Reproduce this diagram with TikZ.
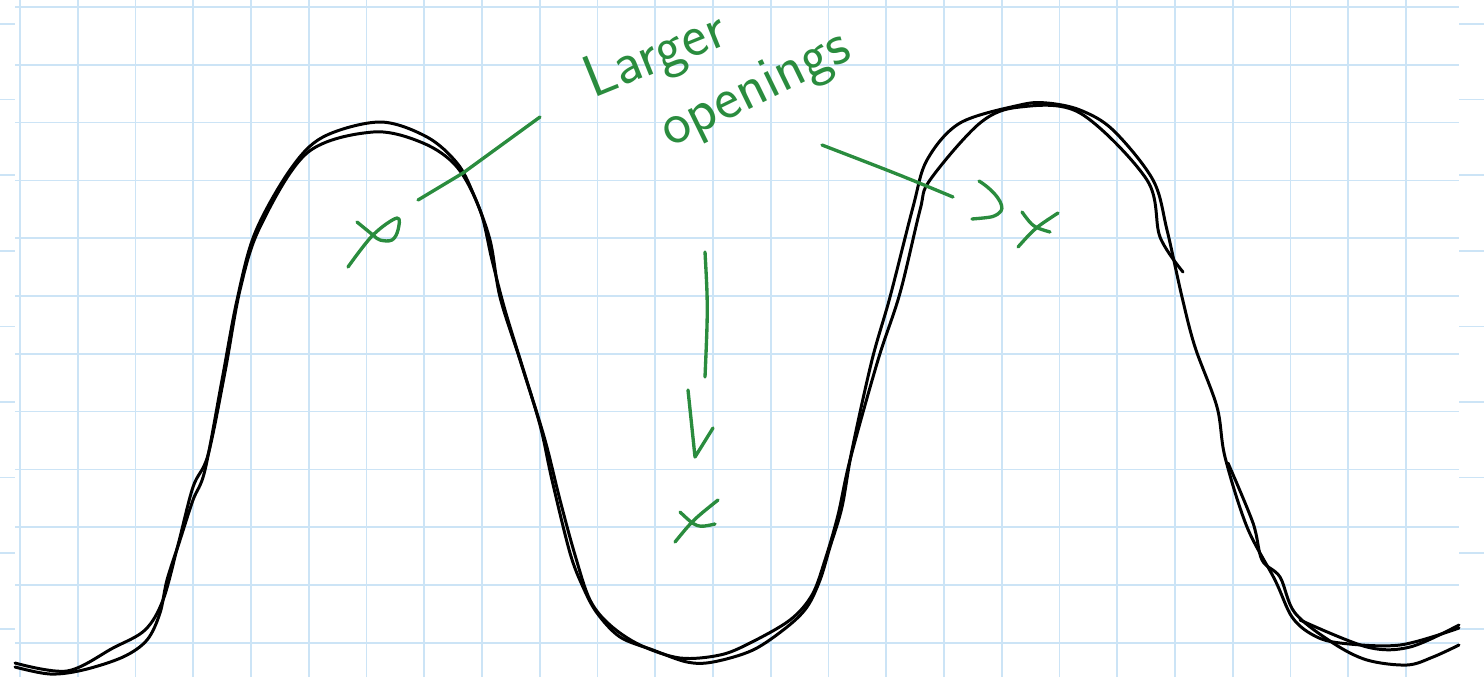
\documentclass[tikz,border=0pt]{standalone}
\definecolor{gridblue}{RGB}{204,228,246}
\definecolor{inkgreen}{RGB}{42,140,62}
\begin{document}
\begin{tikzpicture}[
	gridline/.style={gridblue, line width=0.5pt},
	blackpen/.style={black, line width=0.85pt, line cap=round, line join=round},
	greenpen/.style={inkgreen, line width=0.95pt, line cap=round, line join=round},
	note/.style={inkgreen, font=\sffamily\fontsize{17}{19}\selectfont, inner sep=0pt}]
		\useasboundingbox (0, 0) rectangle (14.84, 6.77);
		
		% squared paper
		\foreach \k in {0,...,24}
			\draw[gridline] ({0.20+0.5775*\k}, 0) -- ({0.20+0.5775*\k}, 6.77);
		\foreach \k in {0,...,11}
			\draw[gridline] (0.15, {6.70-0.578*\k}) -- (14.59, {6.70-0.578*\k});
		\foreach \k in {0,...,8} {
			\draw[gridline] (0, {6.53-0.756*\k}) -- (0.15, {6.53-0.756*\k});
			\draw[gridline] (14.59, {6.53-0.756*\k}) -- (14.84, {6.53-0.756*\k});
		}
		
		% the wave, drawn twice over
		\draw[blackpen] plot[smooth, tension=0.55] coordinates {
			(0.15,0.10) (0.50,0.03) (0.83,0.07) (1.23,0.20) (1.47,0.37) (1.60,0.64)
			(1.67,0.97) (1.80,1.37) (1.93,1.77) (2.05,2.07) (2.22,2.97) (2.37,3.77)
			(2.55,4.44) (2.90,5.07) (3.23,5.40) (3.80,5.55) (4.27,5.40) (4.57,5.14)
			(4.73,4.84) (4.90,4.37) (5.00,3.80) (5.20,3.17) (5.40,2.52) (5.52,1.97)
			(5.70,1.24) (5.83,0.90) (5.97,0.64) (6.20,0.40) (6.53,0.27) (6.87,0.15)
			(7.13,0.15) (7.53,0.27) (7.87,0.50) (8.07,0.70) (8.20,0.97) (8.30,1.30)
			(8.42,1.70) (8.52,2.27) (8.72,3.17) (8.90,3.80) (9.13,4.70) (9.27,5.17)
			(9.60,5.54) (10.20,5.72) (10.47,5.74) (10.80,5.67) (11.13,5.47) (11.53,4.97)
			(11.67,4.47) (11.82,3.80) (11.95,3.30) (12.17,2.70) (12.25,2.20) (12.47,1.50)
			(12.75,0.97) (12.92,0.60) (13.13,0.42) (13.40,0.34) (14.00,0.32) (14.59,0.49)};
		\draw[blackpen] plot[smooth, tension=0.55] coordinates {
			(0.15,0.14) (0.67,0.06) (1.13,0.29) (1.45,0.47) (1.63,0.77) (1.78,1.32)
			(1.93,1.90) (2.08,2.22) (2.25,3.05) (2.40,3.87) (2.60,4.50) (3.07,5.24)
			(3.73,5.45) (4.23,5.34) (4.57,5.10) (4.80,4.67) (4.92,4.17) (5.05,3.67)
			(5.25,3.02) (5.45,2.37) (5.60,1.77) (5.75,1.22) (5.90,0.77) (6.10,0.52)
			(6.40,0.32) (6.80,0.19) (7.20,0.22) (7.50,0.34) (7.90,0.57) (8.12,0.82)
			(8.25,1.17) (8.38,1.62) (8.50,2.17) (8.78,3.17) (9.00,3.84) (9.20,4.67)
			(9.30,4.97) (9.80,5.54) (10.20,5.70) (10.80,5.64) (11.47,4.97) (11.60,4.40)
			(11.83,4.05)};
		\draw[blackpen] plot[smooth, tension=0.55] coordinates {
			(12.28,2.14) (12.53,1.54) (12.62,1.17) (12.80,1.00) (12.95,0.64)
			(13.33,0.34) (13.67,0.17) (14.07,0.12) (14.33,0.20) (14.59,0.32)};
		\draw[blackpen] plot[smooth, tension=0.55] coordinates {
			(13.00,0.57) (13.67,0.30) (14.10,0.30) (14.59,0.52)};
		
		% green notes
		\node[note, rotate=22] (larger) at (6.56, 6.20) {Larger};
		\node[note, rotate=26] (openings) at (7.56, 5.86) {openings};
		
		\draw[greenpen] (4.18,4.77) .. controls (4.40,4.90) .. (4.63,5.04) -- (5.40,5.60);
		\draw[greenpen] plot[smooth, tension=0.6] coordinates {
			(3.48,4.10) (3.73,4.42) (3.97,4.59) (3.98,4.47) (3.92,4.37) (3.80,4.37)
			(3.73,4.42) (3.57,4.55)};
		
		\draw[greenpen] (7.05,4.25) .. controls (7.08,3.70) .. (7.05,3.00);
		\draw[greenpen] (6.88,2.87) -- (6.95,2.20) -- (7.13,2.49);
		\draw[greenpen] (6.75,1.35) .. controls (6.93,1.57) .. (7.18,1.77);
		\draw[greenpen] (6.80,1.65) .. controls (6.97,1.49) .. (7.15,1.53);
		
		\draw[greenpen] (8.22,5.32) .. controls (9.00,5.02) .. (9.53,4.80);
		\draw[greenpen] (9.79,4.96) .. controls (9.95,4.86) and (10.05,4.72) .. (10.01,4.66)
			.. controls (9.95,4.60) .. (9.72,4.58);
		\draw[greenpen] (10.18,4.30) .. controls (10.35,4.49) .. (10.58,4.64);
		\draw[greenpen] (10.22,4.65) .. controls (10.33,4.50) .. (10.50,4.45);
	\end{tikzpicture}
\end{document}
